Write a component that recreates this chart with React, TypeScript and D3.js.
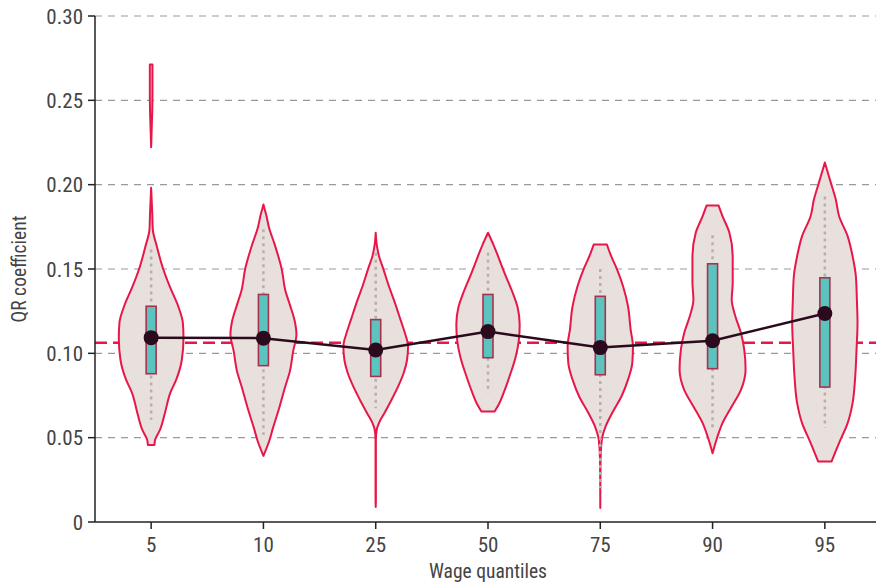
import React from "react";
import * as d3 from "d3";

// Wage quantiles on the x axis
const quantiles = ["5", "10", "25", "50", "75", "90", "95"];

// Box-plot summaries of the QR coefficient per quantile
const medians = [0.1093, 0.109, 0.102, 0.1129, 0.1034, 0.1075, 0.1236];
const lowerQuartiles = [0.0879, 0.0927, 0.0863, 0.0974, 0.0873, 0.0909, 0.08];
const upperQuartiles = [0.1279, 0.1349, 0.12, 0.1349, 0.1338, 0.1531, 0.1448];
const whiskerLows = [0.0606, 0.0517, 0.0675, 0.0765, 0.02, 0.0547, 0.0558];
const whiskerHighs = [0.1616, 0.1735, 0.1596, 0.1596, 0.15, 0.17, 0.193];

// OLS reference coefficient
const olsCoefficient = 0.1063;

// Kernel density profiles: [coefficient, relative density]; null splits pieces
type P = [number, number] | null;
const density5: P[] = [
  [0.2712, 0.04], [0.255, 0.04], [0.245, 0.035], [0.235, 0.02], [0.2222, 0],
  null,
  [0.1982, 0], [0.1824, 0.035], [0.1735, 0.05], [0.1636, 0.17], [0.1503, 0.36],
  [0.1398, 0.56], [0.1279, 0.82], [0.1182, 0.96], [0.1093, 0.98], [0.0962, 0.93],
  [0.0844, 0.76], [0.0766, 0.58], [0.0648, 0.42], [0.0547, 0.27], [0.0487, 0.12],
  [0.0457, 0.1],
];
const density10: P[] = [
  [0.1883, 0], [0.1860, 0.03], [0.1824, 0.08], [0.1745, 0.17], [0.1646, 0.34],
  [0.1503, 0.55], [0.1368, 0.67], [0.1289, 0.8], [0.119, 0.95], [0.1111, 1.0],
  [0.1012, 0.9], [0.0893, 0.8], [0.0796, 0.65], [0.0677, 0.48], [0.0558, 0.29],
  [0.0477, 0.17], [0.0392, 0],
];
const density25: P[] = [
  [0.1715, 0], [0.1646, 0.03], [0.1576, 0.1], [0.1507, 0.22], [0.1398, 0.4],
  [0.1301, 0.58], [0.12, 0.75], [0.1123, 0.88], [0.1041, 0.98], [0.0962, 0.95],
  [0.0885, 0.85], [0.0804, 0.68], [0.0725, 0.48], [0.0648, 0.27], [0.0588, 0.1],
  [0.0547, 0.03], [0.0487, 0.005], [0.0309, 0.005], [0.0131, 0.005], [0.0089, 0],
];
const density50: P[] = [
  [0.1715, 0], [0.1646, 0.16], [0.1568, 0.32], [0.1467, 0.52], [0.1368, 0.73],
  [0.127, 0.9], [0.117, 0.96], [0.1071, 0.93], [0.0972, 0.83], [0.0873, 0.67],
  [0.0774, 0.49], [0.0695, 0.32], [0.0655, 0.2],
];
const density75: P[] = [
  [0.1645, 0.2], [0.1576, 0.33], [0.1497, 0.51], [0.1398, 0.69], [0.1279, 0.84],
  [0.1141, 0.92], [0.1041, 0.99], [0.0943, 0.97], [0.0844, 0.84], [0.0744, 0.64],
  [0.0646, 0.36], [0.0566, 0.16], [0.0487, 0.045], [0.0368, 0.008], [0.0083, 0],
];
const density90: P[] = [
  [0.1877, 0.18], [0.1814, 0.3], [0.1715, 0.51], [0.1576, 0.61], [0.1418, 0.61],
  [0.1319, 0.58], [0.122, 0.69], [0.1121, 0.86], [0.1022, 0.96], [0.0903, 1.0],
  [0.0784, 0.86], [0.0685, 0.58], [0.0586, 0.3], [0.0507, 0.15], [0.0408, 0],
];
const density95: P[] = [
  [0.2131, 0], [0.2012, 0.18], [0.1913, 0.33], [0.1814, 0.43], [0.1695, 0.69],
  [0.1576, 0.84], [0.1457, 0.94], [0.1319, 0.97], [0.118, 0.99], [0.1022, 0.96],
  [0.0863, 0.92], [0.0705, 0.84], [0.0586, 0.69], [0.0468, 0.43], [0.0358, 0.2],
];
const densities = [density5, density10, density25, density50, density75, density90, density95];

const yTicks = [0, 0.05, 0.1, 0.15, 0.2, 0.25, 0.3];

const W = 876;
const H = 586;
const FONT = "'Liberation Sans Narrow', 'Roboto Condensed', 'Arial Narrow', sans-serif";
const TEXT = "#444";
const RED = "#e8174a";

export default function App() {
  const left = 95;
  const top = 16;
  const bottom = 522;

  const x = d3.scalePoint<string>().domain(quantiles).range([left, 881]).padding(0.5);
  const y = d3.scaleLinear().domain([0, 0.3]).range([bottom, top]);
  const w = d3.scaleLinear().domain([0, 1]).range([0, 33]);

  const violinPath = (cx: number, prof: P[]) =>
    d3
      .area<P>()
      .defined((d) => d !== null)
      .y((d) => y((d as [number, number])[0]))
      .x0((d) => cx - w((d as [number, number])[1]))
      .x1((d) => cx + w((d as [number, number])[1]))
      .curve(d3.curveMonotoneY)(prof) || "";

  const medianLine = d3
    .line<number>()
    .x((_, i) => x(quantiles[i]) as number)
    .y((d) => y(d))(medians) || "";

  return (
    <svg
      width={W}
      height={H}
      style={{ position: "absolute", left: 0, top: 0, background: "#fff" }}
      fontFamily={FONT}
    >
      {/* grid */}
      {yTicks
        .filter((t) => t > 0)
        .map((t) => (
          <line
            key={"g" + t}
            x1={left}
            x2={W}
            y1={y(t)}
            y2={y(t)}
            stroke="#9a9a9a"
            strokeWidth={1.2}
            strokeDasharray="7,6"
          />
        ))}

      {/* OLS reference line */}
      <line
        x1={left}
        x2={W}
        y1={y(olsCoefficient)}
        y2={y(olsCoefficient)}
        stroke={RED}
        strokeWidth={2.5}
        strokeDasharray="12,6"
      />

      {/* violins */}
      {quantiles.map((q, i) => (
        <path
          key={"v" + q}
          d={violinPath(x(q) as number, densities[i])}
          fill="#e8e0dd"
          stroke={RED}
          strokeWidth={2}
          strokeLinejoin="round"
        />
      ))}

      {/* whiskers */}
      {quantiles.map((q, i) => (
        <line
          key={"w" + q}
          x1={x(q)}
          x2={x(q)}
          y1={y(whiskerHighs[i])}
          y2={y(whiskerLows[i])}
          stroke="#b9aeab"
          strokeWidth={2.5}
          strokeDasharray="3,4"
        />
      ))}

      {/* interquartile boxes */}
      {quantiles.map((q, i) => (
        <rect
          key={"b" + q}
          x={(x(q) as number) - 5}
          width={10}
          y={y(upperQuartiles[i])}
          height={y(lowerQuartiles[i]) - y(upperQuartiles[i])}
          fill="#5cc4be"
          stroke="#a8324e"
          strokeWidth={1.6}
        />
      ))}

      {/* medians */}
      <path d={medianLine} fill="none" stroke="#2c0a1e" strokeWidth={2.5} />
      {quantiles.map((q, i) => (
        <circle key={"m" + q} cx={x(q)} cy={y(medians[i])} r={7.5} fill="#2c0a1e" />
      ))}

      {/* y axis */}
      <line x1={left} x2={left} y1={top} y2={bottom} stroke="#222" strokeWidth={1.5} />
      {yTicks.map((t) => (
        <g key={"yt" + t}>
          <line x1={left - 7} x2={left} y1={y(t)} y2={y(t)} stroke="#222" strokeWidth={1.5} />
          <text
            x={left - 12}
            y={y(t)}
            dy="0.36em"
            textAnchor="end"
            fontSize={21}
            fill={TEXT}
          >
            {t === 0 ? "0" : d3.format(".2f")(t)}
          </text>
        </g>
      ))}
      <text
        transform={`translate(26,${(top + bottom) / 2}) rotate(-90)`}
        textAnchor="middle"
        fontSize={19.5}
        fill={TEXT}
      >
        QR coefficient
      </text>

      {/* x axis */}
      <line x1={left} x2={W} y1={bottom} y2={bottom} stroke="#222" strokeWidth={1.5} />
      {quantiles.map((q) => (
        <g key={"xt" + q}>
          <line x1={x(q)} x2={x(q)} y1={bottom} y2={bottom + 7} stroke="#222" strokeWidth={1.5} />
          <text x={x(q)} y={552} textAnchor="middle" fontSize={21} fill={TEXT}>
            {q}
          </text>
        </g>
      ))}
      <text x={(left + 881) / 2} y={578} textAnchor="middle" fontSize={19.5} fill={TEXT}>
        Wage quantiles
      </text>
    </svg>
  );
}
